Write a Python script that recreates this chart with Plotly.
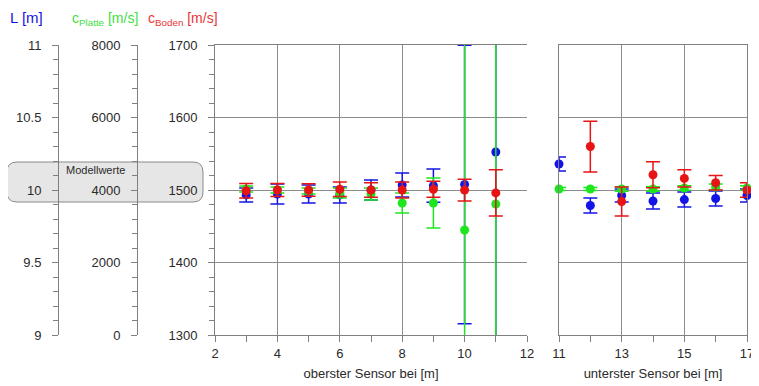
import plotly.graph_objects as go

# the page body has an 8 px margin, so the figure is sized to fill the
# remaining window and reference pixel positions are shifted by OFF
SCREEN_W, SCREEN_H = 759, 386
OFF = 8
W, H = SCREEN_W - OFF, SCREEN_H - OFF

# ---------------- data ----------------
# left panel: "oberster Sensor bei [m]"
x_top = [3, 4, 5, 6, 7, 8, 9, 10, 11]
L_top = [9.966, 9.972, 9.972, 9.966, 10.0, 10.034, 10.03, 10.038, 10.262]
L_top_err = [0.048, 0.069, 0.062, 0.055, 0.069, 0.083, 0.114, 0.96, 1.5]
cP_top = [4028, 4000, 3972, 3917, 3890, 3641, 3641, 2897, 3614]
cP_top_err = [80, 80, 80, 140, 165, 276, 690, 5600, 8000]
cB_top = [1499, 1500, 1500, 1501, 1500, 1500, 1501, 1500, 1496]
cB_top_err = [10, 9, 8.5, 10, 10, 11, 11, 15, 32]

# right panel: "unterster Sensor bei [m]"
x_bot = [11, 12, 13, 14, 15, 16, 17]
L_bot = [10.179, 9.893, 9.962, 9.924, 9.934, 9.941, 9.962]
L_bot_err = [0.048, 0.052, 0.045, 0.055, 0.052, 0.052, 0.045]
cP_bot = [4028, 4028, 4028, 4028, 4055, 4083, 4055]
cP_bot_err = [40, 40, 60, 60, 60, 80, 60]
cB_bot = [None, 1560, 1484, 1521, 1516, 1510, 1500]
cB_bot_err = [0, 35, 20, 18, 12, 10, 10]

BLUE = "#1414e6"
GREEN = "#1ee61e"
RED = "#e61414"
FONT = "Liberation Sans, Arial, sans-serif"
AX = "#808080"
GRID = "#8c8c8c"
TXT = "#2a2a2a"


def px_x(p):
    return (p - OFF) / W


def px_y(p):
    return (H - (p - OFF)) / H


fig = go.Figure()


def add(x, y, err, color, xa, ya, clip):
    fig.add_trace(go.Scatter(
        x=x, y=y, mode="markers", xaxis=xa, yaxis=ya,
        marker=dict(color=color, size=9),
        error_y=dict(type="data", array=err, visible=True, color=color,
                     thickness=1.5, width=7),
        cliponaxis=clip, showlegend=False, hoverinfo="x+y"))


# left panel (drawn blue, green, red)
add(x_top, L_top, L_top_err, BLUE, "x", "y", True)
add(x_top, cP_top, cP_top_err, GREEN, "x", "y2", True)
add(x_top, cB_top, cB_top_err, RED, "x", "y3", True)
# right panel
add(x_bot, L_bot, L_bot_err, BLUE, "x2", "y4", False)
add(x_bot, cP_bot, cP_bot_err, GREEN, "x2", "y5", False)
add(x_bot, cB_bot, cB_bot_err, RED, "x2", "y6", False)

ydom = [px_y(335), px_y(45)]
tickfont = dict(family=FONT, size=13, color=TXT)
common_y = dict(showline=True, linecolor=AX, linewidth=1, ticks="outside",
                ticklen=6, tickcolor=AX, tickwidth=1, zeroline=False,
                tickfont=tickfont, ticklabelstandoff=8, automargin=False)
xt = dict(showgrid=True, gridcolor=GRID, gridwidth=1, showline=True,
          linecolor=AX, mirror=True, ticks="outside", ticklen=6, tickcolor=AX,
          zeroline=False, tickfont=tickfont, automargin=False)

fig.update_layout(
    width=W, height=H, margin=dict(l=0, r=0, t=0, b=0, autoexpand=False),
    paper_bgcolor="white", plot_bgcolor="white",
    font=dict(family=FONT, size=13, color=TXT),
    xaxis=dict(domain=[px_x(215), px_x(527)], range=[2, 12], anchor="y",
               tick0=2, dtick=2,
               minor=dict(dtick=1, ticks="outside", ticklen=6, tickcolor=AX, showgrid=False),
               title=dict(text="oberster Sensor bei [m]", font=dict(family=FONT, size=13, color=TXT), standoff=9),
               **xt),
    xaxis2=dict(domain=[px_x(559), px_x(747)], range=[11, 17], anchor="y4",
                tick0=11, dtick=2,
                minor=dict(dtick=1, ticks="outside", ticklen=6, tickcolor=AX, showgrid=False),
                title=dict(text="unterster Sensor bei [m]", font=dict(family=FONT, size=13, color=TXT), standoff=9),
                **xt),
    # L axis (main, carries the horizontal grid)
    yaxis=dict(domain=ydom, range=[9, 11], anchor="free", position=px_x(58),
               side="left", dtick=0.5, showgrid=True, gridcolor=GRID, gridwidth=1,
               minor=dict(dtick=0.1, ticks="outside", ticklen=5, tickcolor=AX, showgrid=False),
               **common_y),
    yaxis2=dict(domain=ydom, range=[0, 8000], overlaying="y", anchor="free",
                position=px_x(137), side="left", dtick=2000, showgrid=False,
                minor=dict(dtick=400, ticks="outside", ticklen=5, tickcolor=AX, showgrid=False),
                **common_y),
    yaxis3=dict(domain=ydom, range=[1300, 1700], overlaying="y", anchor="x",
                side="left", dtick=100, showgrid=False,
                minor=dict(dtick=20, ticks="outside", ticklen=5, tickcolor=AX, showgrid=False),
                **common_y),
    yaxis4=dict(domain=ydom, range=[9, 11], anchor="x2", dtick=0.5,
                showgrid=True, gridcolor=GRID, gridwidth=1, showline=True,
                linecolor=AX, mirror=True, showticklabels=False, ticks="",
                zeroline=False, automargin=False),
    yaxis5=dict(domain=ydom, range=[0, 8000], overlaying="y4", anchor="x2",
                visible=False),
    yaxis6=dict(domain=ydom, range=[1300, 1700], overlaying="y4", anchor="x2",
                visible=False),
)

# rounded "Modellwerte" box
x0, x1, y0, y1, r = 7, 203, 162, 202, 10
path = (f"M {px_x(x0 + r)} {px_y(y0)} L {px_x(x1 - r)} {px_y(y0)} "
        f"Q {px_x(x1)} {px_y(y0)} {px_x(x1)} {px_y(y0 + r)} "
        f"L {px_x(x1)} {px_y(y1 - r)} Q {px_x(x1)} {px_y(y1)} {px_x(x1 - r)} {px_y(y1)} "
        f"L {px_x(x0 + r)} {px_y(y1)} Q {px_x(x0)} {px_y(y1)} {px_x(x0)} {px_y(y1 - r)} "
        f"L {px_x(x0)} {px_y(y0 + r)} Q {px_x(x0)} {px_y(y0)} {px_x(x0 + r)} {px_y(y0)} Z")
fig.add_shape(type="path", path=path, xref="paper", yref="paper",
              fillcolor="#e6e6e6", line=dict(color="#8a8a8a", width=1), layer="below")

fig.add_annotation(text="Modellwerte", x=px_x(95), y=px_y(170), xref="paper", yref="paper",
                   showarrow=False, font=dict(family=FONT, size=11, color=TXT),
                   xanchor="center", yanchor="middle")

# header labels
hdr = [("L [m]", 8, 17, 15, BLUE),
       ("c<sub>Platte</sub> [m/s]", 70, 19, 14, "#3ee03e"),
       ("c<sub>Boden</sub> [m/s]", 146, 19, 14, "#e83636")]
for t, xp, yp, fs, c in hdr:
    fig.add_annotation(text=t, x=px_x(xp), y=px_y(yp), xref="paper", yref="paper",
                       showarrow=False, font=dict(family=FONT, size=fs, color=c),
                       xanchor="left", yanchor="middle")

fig.write_html("out.html")
